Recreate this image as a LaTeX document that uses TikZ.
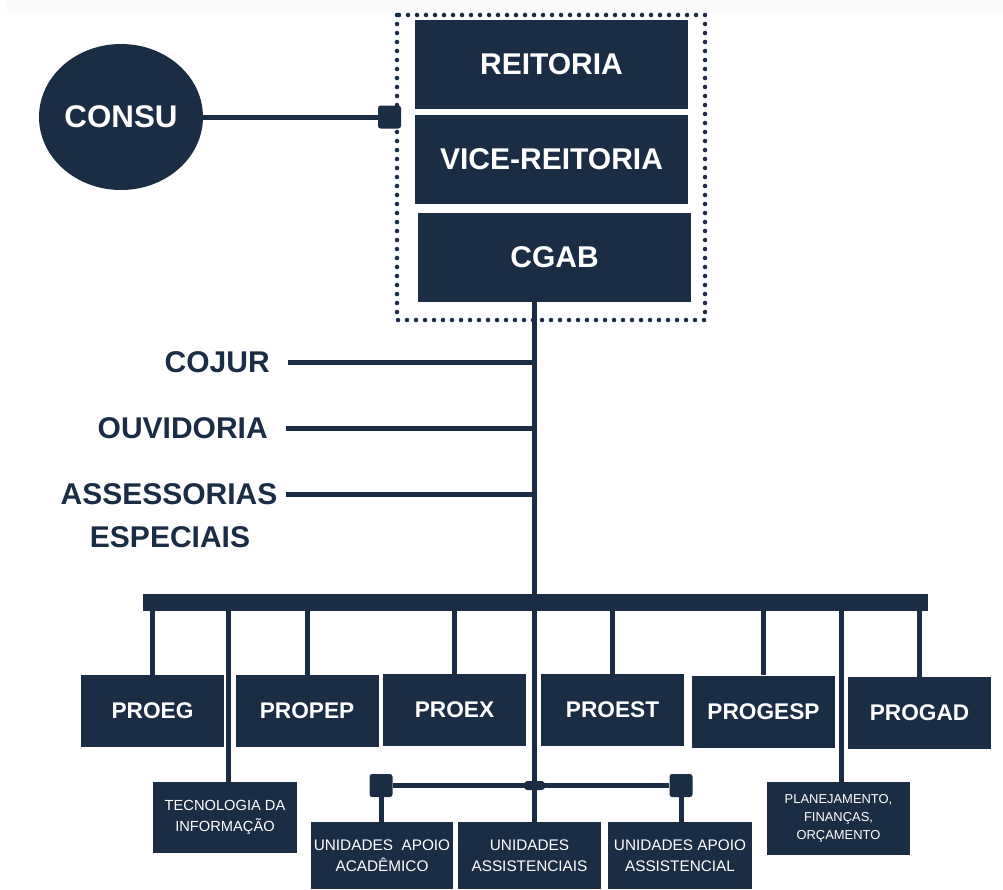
\documentclass[tikz,border=0pt]{standalone}
\usepackage{fontspec}
\setmainfont{Liberation Sans}
\usetikzlibrary{shapes.geometric}
\definecolor{navy}{RGB}{27,45,69}
\begin{document}
\begin{tikzpicture}[x=0.75pt,y=-0.75pt,
  box/.style={fill=navy, text=white, inner sep=0pt, minimum width=107.25pt, minimum height=54pt, font=\fontsize{17}{20}\selectfont\bfseries},
  topbox/.style={fill=navy, text=white, inner sep=0pt, minimum width=204.75pt, minimum height=66.75pt, font=\fontsize{22.5}{26}\selectfont\bfseries},
  unit/.style={fill=navy, text=white, inner sep=0pt, minimum width=107.25pt, minimum height=50.25pt, align=center, font=\fontsize{11.5}{15.75}\selectfont},
  smallbox/.style={fill=navy, text=white, inner sep=0pt, minimum width=107.25pt, minimum height=54pt, align=center},
  side/.style={text=navy, inner sep=0pt, font=\fontsize{22.5}{32}\selectfont\bfseries},
  conn/.style={draw=navy, line width=3.75pt},
  sqr/.style={fill=navy, rounded corners=2pt, minimum size=17.25pt, inner sep=0pt},
]
\useasboundingbox (0,0) rectangle (1003,889);
\fill[black!2] (7,0) rectangle (1003,13);

% top group
\node[topbox] (reit) at (551.5,64.5) {REITORIA};
\node[topbox] (vice) at (551.5,159.5) {VICE-REITORIA};
\node[topbox] (cgab) at (554.5,257.5) {CGAB};
\draw[navy, line width=3.4pt, line cap=round, dash pattern=on 0pt off 6.75pt] (397,15) rectangle (705,320);

\node[ellipse, fill=navy, text=white, minimum width=123pt, minimum height=109.5pt, inner sep=0pt, font=\fontsize{23.5}{27}\selectfont\bfseries] (consu) at (121,117) {CONSU};
\node[sqr] (sqc) at (389.5,117) {};
\draw[conn] (consu.east) -- (sqc.west);

% side labels
\node[side, anchor=east] (cojur) at (270,362) {COJUR};
\node[side, anchor=east] (ouv) at (268,428) {OUVIDORIA};
\node[side] (ass1) at (169,494) {ASSESSORIAS};
\node[side] (ass2) at (170,537) {ESPECIAIS};

% bus
\node[fill=navy, inner sep=0pt, minimum width=588.75pt, minimum height=12.75pt] (bus) at (535.5,602) {};

% upper row
\node[box] (proeg) at (152.5,711) {PROEG};
\node[box] (propep) at (307,711) {PROPEP};
\node[box] (proex) at (454.5,710) {PROEX};
\node[box] (proest) at (612.5,710) {PROEST};
\node[box] (progesp) at (763.5,711.5) {PROGESP};
\node[box] (progad) at (919.5,713) {PROGAD};

% second level
\node[smallbox, minimum width=108pt, minimum height=53.25pt, font=\fontsize{11}{15.75}\selectfont] (ti) at (225,817.5) {TECNOLOGIA DA\\INFORMAÇÃO};
\node[smallbox, minimum width=107.25pt, minimum height=54.75pt, font=\fontsize{9.7}{13.5}\selectfont] (plan) at (838.5,818.5) {PLANEJAMENTO,\\FINANÇAS,\\ORÇAMENTO};

% bottom units
\node[unit, minimum width=106.5pt, text depth=0pt] (uac) at (382,855.5) {UNIDADES~~APOIO\\ACADÊMICO};
\node[unit] (uas) at (529.5,855.5) {UNIDADES\\ASSISTENCIAIS};
\node[unit, minimum width=108pt] (uaa) at (680,855.5) {UNIDADES APOIO\\ASSISTENCIAL};

\node[sqr] (sqL) at (381,785.5) {};
\node[sqr] (sqR) at (681,785.5) {};
\node[fill=navy, rounded corners=2.5pt, minimum width=15.75pt, minimum height=6.75pt, inner sep=0pt] (jn) at (534.5,785.5) {};

% connectors
\coordinate (tt) at (534.5,302);
\draw[conn] (tt) -- (tt |- uas.north);
\coordinate (cjL) at (288,362);
\coordinate (ouL) at (286,428);
\coordinate (asL) at (286,494);
\draw[conn] (cjL) -- (cjL -| tt);
\draw[conn] (ouL) -- (ouL -| tt);
\draw[conn] (asL) -- (asL -| tt);

\foreach \n in {proeg,propep,proex,proest,progesp,progad}
  \draw[conn] (bus.center -| \n.north) -- (\n.north);
\coordinate (tiTop) at ([xshift=2.5pt]ti.north);
\coordinate (plTop) at ([xshift=2.6pt]plan.north);
\draw[conn] (bus.center -| tiTop) -- (tiTop);
\draw[conn] (bus.center -| plTop) -- (plTop);

\draw[conn] (sqL) -- (sqR);
\draw[conn] (sqL) -- (sqL |- uac.north);
\draw[conn] (sqR) -- (sqR |- uaa.north);
\end{tikzpicture}
\end{document}
